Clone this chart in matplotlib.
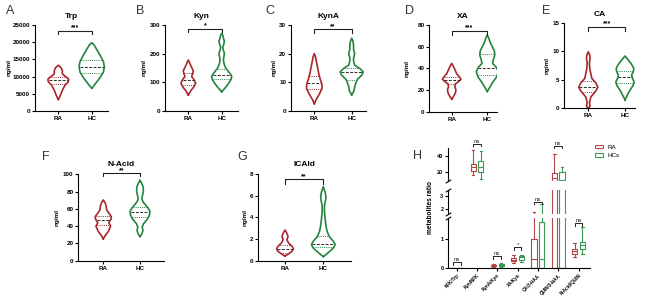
import numpy as np
import matplotlib
matplotlib.use('Agg')
import matplotlib.pyplot as plt
from matplotlib.patches import Patch

plt.rcParams['font.family'] = ['Liberation Sans', 'DejaVu Sans']

W, H = 669, 301
fig = plt.figure(figsize=(6.69, 3.01), dpi=100)

RA_C = '#A8272D'
HC_C = '#23843F'
RA_H = '#B5474A'
HC_H = '#3A9A5A'

groups = ['RA', 'HC']

# ---------------- violin data (value levels, half-widths, quartiles) ----------
trp_ra_y = [3300, 4500, 6000, 7500, 8500, 9300, 10000, 10800, 11800, 12600, 13300]
trp_ra_w = [0, 0.06, 0.12, 0.2, 0.3, 0.31, 0.22, 0.12, 0.12, 0.08, 0]
trp_ra_q = [7850, 8900, 9800]
trp_hc_y = [6600, 7800, 9700, 11300, 12900, 14400, 16200, 17900, 19200, 19850]
trp_hc_w = [0, 0.1, 0.25, 0.35, 0.38, 0.35, 0.25, 0.15, 0.07, 0]
trp_hc_q = [10950, 12700, 14800]

kyn_ra_y = [55, 70, 85, 97, 110, 120, 130, 140, 152, 165, 178]
kyn_ra_w = [0, 0.07, 0.17, 0.22, 0.17, 0.1, 0.13, 0.15, 0.1, 0.05, 0]
kyn_ra_q = [91, 107, 134]
kyn_hc_y = [67, 80, 95, 110, 122, 135, 150, 165, 180, 192, 202, 212, 222, 232, 243, 255, 265, 271]
kyn_hc_w = [0, 0.1, 0.2, 0.28, 0.3, 0.22, 0.12, 0.07, 0.05, 0.07, 0.08, 0.05, 0.03, 0.06, 0.08, 0.05, 0.03, 0]
kyn_hc_q = [112, 124, 145]

kyna_ra_y = [2.5, 4, 6, 8, 9.5, 11, 13, 15, 17, 19, 20]
kyna_ra_w = [0, 0.05, 0.14, 0.21, 0.2, 0.16, 0.12, 0.09, 0.06, 0.03, 0]
kyna_ra_q = [7.6, 9.7, 12.2]
kyna_hc_y = [5.6, 7, 9, 11, 12.5, 13.6, 14.8, 16, 17.5, 18.5, 20, 21.5, 23, 24.5, 25.4]
kyna_hc_w = [0, 0.06, 0.09, 0.15, 0.27, 0.31, 0.22, 0.08, 0.05, 0.05, 0.08, 0.05, 0.05, 0.03, 0]
kyna_hc_q = [10.8, 13.7, 14.9]

xa_ra_y = [11.4, 14, 17, 20, 23, 25.5, 28, 30, 32, 35, 38, 41, 44.6]
xa_ra_w = [0, 0.05, 0.1, 0.12, 0.09, 0.1, 0.2, 0.26, 0.22, 0.14, 0.1, 0.06, 0]
xa_ra_q = [25.5, 29.2, 31.7]
xa_hc_y = [18.5, 22, 27, 32, 37, 41, 44.5, 48, 52, 56, 60, 64, 68, 70.8]
xa_hc_w = [0, 0.06, 0.15, 0.26, 0.31, 0.25, 0.15, 0.17, 0.21, 0.2, 0.14, 0.08, 0.04, 0]
xa_hc_q = [33.9, 40, 53]

ca_ra_y = [0, 0.4, 1, 2, 3, 3.7, 4.5, 5.2, 6, 7, 8, 8.7, 9.3, 9.9]
ca_ra_w = [0, 0.05, 0.03, 0.07, 0.2, 0.26, 0.2, 0.1, 0.07, 0.04, 0.03, 0.05, 0.04, 0]
ca_ra_q = [2.9, 3.7, 4.7]
ca_hc_y = [1.45, 2, 3, 4, 4.6, 5.3, 5.8, 6.5, 7, 7.7, 8.4, 9.16]
ca_hc_w = [0, 0.04, 0.12, 0.22, 0.25, 0.2, 0.18, 0.23, 0.24, 0.18, 0.1, 0]
ca_hc_q = [4.4, 5.5, 6.6]

nac_ra_y = [25, 29, 34, 40, 44, 48, 51, 55, 59, 63, 67, 70.3]
nac_ra_w = [0, 0.05, 0.14, 0.2, 0.15, 0.21, 0.22, 0.15, 0.09, 0.08, 0.05, 0]
nac_ra_q = [41.3, 47, 51.7]
nac_hc_y = [27.8, 31, 35, 39, 43, 48, 53, 57, 61, 65, 69, 72, 76, 80, 85, 89, 93.4]
nac_hc_w = [0, 0.05, 0.08, 0.06, 0.1, 0.2, 0.26, 0.27, 0.22, 0.14, 0.07, 0.05, 0.07, 0.09, 0.09, 0.05, 0]
nac_hc_q = [51, 56, 62.5]

ica_ra_y = [0.43, 0.6, 0.85, 1.1, 1.35, 1.6, 1.85, 2.0, 2.2, 2.45, 2.65, 2.83]
ica_ra_w = [0, 0.08, 0.18, 0.22, 0.18, 0.1, 0.06, 0.05, 0.08, 0.06, 0.03, 0]
ica_ra_q = [0.74, 1.08, 1.45]
ica_hc_y = [0.37, 0.6, 0.9, 1.2, 1.5, 1.8, 2.2, 2.7, 3.2, 3.8, 4.5, 5.1, 5.6, 5.9, 6.3, 6.83]
ica_hc_w = [0, 0.08, 0.18, 0.27, 0.31, 0.26, 0.16, 0.1, 0.07, 0.05, 0.03, 0.03, 0.06, 0.07, 0.05, 0]
ica_hc_q = [1.23, 1.54, 2.3]

titles = ['Trp', 'Kyn', 'KynA', 'XA', 'CA', 'N-Acid', 'ICAld']
letters = ['A', 'B', 'C', 'D', 'E', 'F', 'G']
ymax = [25000, 300, 30, 80, 15, 100, 8]
ystep = [5000, 100, 10, 20, 5, 20, 2]
signif = ['***', '*', '**', '***', '***', '**', '**']
bracket_y = [23300, 287, 28.5, 74.7, 14.3, 101.2, 7.5]
bracket_drop = [900, 12, 1.2, 3.5, 0.7, 3.7, 0.4]

violins = [
    (trp_ra_y, trp_ra_w, trp_ra_q, trp_hc_y, trp_hc_w, trp_hc_q),
    (kyn_ra_y, kyn_ra_w, kyn_ra_q, kyn_hc_y, kyn_hc_w, kyn_hc_q),
    (kyna_ra_y, kyna_ra_w, kyna_ra_q, kyna_hc_y, kyna_hc_w, kyna_hc_q),
    (xa_ra_y, xa_ra_w, xa_ra_q, xa_hc_y, xa_hc_w, xa_hc_q),
    (ca_ra_y, ca_ra_w, ca_ra_q, ca_hc_y, ca_hc_w, ca_hc_q),
    (nac_ra_y, nac_ra_w, nac_ra_q, nac_hc_y, nac_hc_w, nac_hc_q),
    (ica_ra_y, ica_ra_w, ica_ra_q, ica_hc_y, ica_hc_w, ica_hc_q),
]

# layout in pixels: spine x, axis end x, RA x, HC x, top y, bottom y
layout = [
    (35.0, 108.0, 58.3, 91.7, 25.0, 111.0),
    (165.0, 238.3, 188.3, 221.7, 25.0, 111.0),
    (291.0, 366.0, 314.3, 351.7, 25.0, 111.0),
    (429.3, 496.7, 451.7, 487.3, 25.0, 111.7),
    (564.0, 635.0, 588.3, 625.0, 22.7, 108.3),
    (78.3, 164.3, 103.3, 140.0, 174.3, 260.7),
    (258.3, 350.7, 285.0, 323.3, 174.0, 260.7),
]
letter_pos = [(6, 11), (136, 11), (265, 11), (405, 11), (542, 11), (42, 157), (237, 157)]
ylabel_x = [9.3, 144, 274, 406.7, 547, 56.7, 245]


def px_axes(x0, x1, ytop, ybot):
    return fig.add_axes([x0 / W, 1 - ybot / H, (x1 - x0) / W, (ybot - ytop) / H])


def style_axes(ax):
    for s in ['top', 'right']:
        ax.spines[s].set_visible(False)
    for s in ['left', 'bottom']:
        ax.spines[s].set_linewidth(0.8)
    ax.tick_params(length=2, width=0.8, pad=1.5, labelsize=4.5)
    for lab in ax.get_xticklabels() + ax.get_yticklabels():
        lab.set_fontweight('bold')


def draw_violin(ax, pos, ys, ws, q, color):
    ys = np.asarray(ys, float)
    ws = np.asarray(ws, float)
    xs = np.concatenate([pos - ws, (pos + ws)[::-1], [pos - ws[0]]])
    yy = np.concatenate([ys, ys[::-1], [ys[0]]])
    ax.plot(xs, yy, color=color, lw=1.2, solid_joinstyle='round', solid_capstyle='round')
    for val, ls, c in zip(q, [(0, (1, 1.2)), (0, (3, 1.5)), (0, (1, 1.2))], [color, '#2b2b2b', color]):
        w = np.interp(val, ys, ws)
        ax.plot([pos - w * 0.95, pos + w * 0.95], [val, val], ls=ls, color=c, lw=0.7)


for i, (sx, ex, rx, hx, ty, by) in enumerate(layout):
    ax = px_axes(sx, ex, ty, by)
    sp = hx - rx
    ax.set_xlim((sx - rx) / sp, 1 + (ex - hx) / sp)
    ax.set_ylim(0, ymax[i])
    ax.set_yticks(np.arange(0, ymax[i] + ystep[i] / 2, ystep[i]))
    ax.set_xticks([0, 1])
    ax.set_xticklabels(groups)
    style_axes(ax)
    ra_y, ra_w, ra_q, hc_y, hc_w, hc_q = violins[i]
    draw_violin(ax, 0, ra_y, ra_w, ra_q, RA_C)
    draw_violin(ax, 1, hc_y, hc_w, hc_q, HC_C)
    by_ = bracket_y[i]
    d = bracket_drop[i]
    ax.plot([0, 0, 1, 1], [by_ - d, by_, by_, by_ - d], color='#222222', lw=0.8, clip_on=False)
    ax.annotate(signif[i], (0.5, by_), xytext=(0, -0.5), textcoords='offset points',
                ha='center', va='bottom', fontsize=5, fontweight='bold', annotation_clip=False)
    ax.set_title(titles[i], fontsize=6, fontweight='bold', pad=5 if i < 5 else 6)
    fig.text(letter_pos[i][0] / W, 1 - letter_pos[i][1] / H, letters[i], fontsize=9,
             ha='left', va='center', color='#333333')
    fig.text(ylabel_x[i] / W, 1 - ((ty + by) / 2) / H, 'ng/ml', rotation=90, fontsize=4.6,
             fontweight='bold', ha='center', va='center')

# ---------------- panel H: broken-axis box plots -------------------
ratio_cats = ['NFK/Trp', 'Kyn/NFK', 'KynA/Kyn', 'XA/Kyn', 'CA/3-HAA', 'QUIN/3-HAA', 'N-Acid/QUIN']
ra_min = [0.002, 16.3, 0.05, 0.17, 0.0, 0.0, 0.40]
ra_q1 = [0.003, 21.3, 0.07, 0.26, 0.0, 0.0, 0.50]
ra_med = [0.004, 25.9, 0.10, 0.30, 0.32, 12.0, 0.59]
ra_q3 = [0.005, 29.6, 0.12, 0.34, 0.99, 18.4, 0.66]
ra_max = [0.008, 47.5, 0.16, 0.45, 1.82, 42.5, 0.87]
hc_min = [0.002, 10.9, 0.05, 0.20, 0.0, 0.0, 0.49]
hc_q1 = [0.003, 20.4, 0.08, 0.28, 0.0, 0.0, 0.66]
hc_med = [0.004, 26.6, 0.10, 0.37, 0.33, 9.5, 0.78]
hc_q3 = [0.006, 33.8, 0.13, 0.42, 1.57, 19.6, 0.89]
hc_max = [0.009, 46.0, 0.18, 0.45, 2.39, 25.9, 1.40]
ratio_sig = ['ns', 'ns', 'ns', '*', 'ns', 'ns', 'ns']
ratio_br = [0.22, 55.0, 0.42, 0.72, 2.5, 52.0, 1.56]
ratio_br_seg = [2, 0, 2, 2, 1, 0, 2]   # 0 top, 1 middle, 2 bottom

hx0, hx1 = 448.3, 590.0
h_x0, h_sp = 456.7, 20.3
seg_px = [(148.0, 181.0), (190.0, 214.0), (218.3, 268.3)]
seg_lim = [(8.75, 50.0), (1.65, 3.42), (0.0, 1.71)]
seg_ticks = [[20, 40], [2, 3], [0, 1]]
xl = ((hx0 - h_x0) / h_sp, (hx1 - h_x0) / h_sp)
n = len(ratio_cats)
pos = np.arange(n)

ra_stats = [dict(med=ra_med[k], q1=ra_q1[k], q3=ra_q3[k], whislo=ra_min[k], whishi=ra_max[k], fliers=[])
            for k in range(n)]
hc_stats = [dict(med=hc_med[k], q1=hc_q1[k], q3=hc_q3[k], whislo=hc_min[k], whishi=hc_max[k], fliers=[])
            for k in range(n)]

haxes = []
for s, (t, b) in enumerate(seg_px):
    ax = px_axes(hx0, hx1, t, b)
    ax.set_xlim(*xl)
    ax.set_ylim(*seg_lim[s])
    ax.set_yticks(seg_ticks[s])
    for stats, off, col in [(ra_stats, -0.19, RA_H), (hc_stats, 0.19, HC_H)]:
        lp = dict(color=col, lw=0.8)
        ax.bxp(stats, positions=pos + off, widths=0.26, capwidths=0.13, showfliers=False,
               boxprops=lp, whiskerprops=lp, capprops=lp, medianprops=lp, manage_ticks=False)
    for sname in ['top', 'right']:
        ax.spines[sname].set_visible(False)
    if s < 2:
        ax.spines['bottom'].set_visible(False)
        ax.set_xticks([])
    else:
        ax.set_xticks(pos)
        ax.set_xticklabels(ratio_cats, rotation=45, ha='right', rotation_mode='anchor')
    style_axes(ax)
    ax.tick_params(axis='y', labelsize=4)
    ax.tick_params(axis='x', labelsize=3.3)
    for lab in ax.get_xticklabels() + ax.get_yticklabels():
        lab.set_fontweight('bold')
    haxes.append(ax)

# break marks
mk = [(-1, -0.6), (1, 0.6)]
for s, ax in enumerate(haxes):
    if s > 0:
        ax.plot([0], [1], transform=ax.transAxes, marker=mk, markersize=4, mew=0.8,
                color='k', clip_on=False, ls='none')
    if s < 2:
        ax.plot([0], [0], transform=ax.transAxes, marker=mk, markersize=4, mew=0.8,
                color='k', clip_on=False, ls='none')

for k in range(n):
    ax = haxes[ratio_br_seg[k]]
    yb = ratio_br[k]
    lo, hi = seg_lim[ratio_br_seg[k]]
    d = (hi - lo) * 0.06 if ratio_br_seg[k] != 0 else 2.5
    ax.plot([k - 0.19, k - 0.19, k + 0.19, k + 0.19], [yb - d, yb, yb, yb - d], color='#222222',
            lw=0.7, clip_on=False)
    ax.annotate(ratio_sig[k], (k, yb), xytext=(0, 0), textcoords='offset points', ha='center',
                va='bottom', fontsize=4.3, annotation_clip=False, color='#222222')

fig.text(430 / W, 1 - 207 / H, 'metabolites ratio', rotation=90, fontsize=4.7, fontweight='bold',
         ha='center', va='center')
fig.text(413 / W, 1 - 156 / H, 'H', fontsize=9, ha='left', va='center', color='#333333')

fig.legend(handles=[Patch(facecolor='white', edgecolor=RA_H, lw=0.8),
                    Patch(facecolor='white', edgecolor=HC_H, lw=0.8)],
           labels=['RA', 'HCs'], loc='upper left', bbox_to_anchor=(592 / W, 1 - 142 / H),
           frameon=False, fontsize=4.5, handlelength=1.4, handleheight=0.6, labelspacing=0.5,
           handletextpad=0.6, borderaxespad=0)

fig.savefig('out.png', dpi=100)
